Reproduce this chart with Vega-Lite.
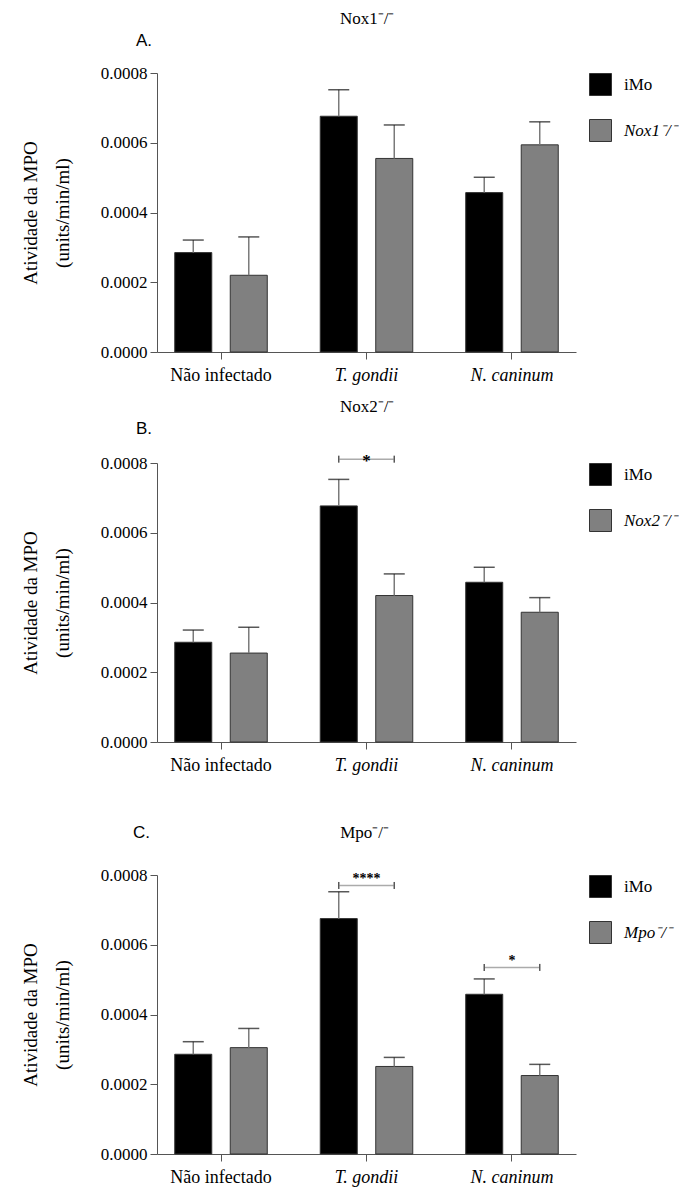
{
  "$schema": "https://vega.github.io/schema/vega-lite/v6.json",
  "padding": {"left": 21, "top": 10, "right": 2, "bottom": 2},
  "spacing": 50,
  "datasets": {
    "bars": [
      {"panel": "A", "infection": "Não infectado", "group": "iMo", "value": 0.000285, "err": 0.000321},
      {"panel": "A", "infection": "Não infectado", "group": "Nox1⁻/⁻", "value": 0.000220, "err": 0.000330},
      {"panel": "A", "infection": "T. gondii", "group": "iMo", "value": 0.000676, "err": 0.000752},
      {"panel": "A", "infection": "T. gondii", "group": "Nox1⁻/⁻", "value": 0.000555, "err": 0.000651},
      {"panel": "A", "infection": "N. caninum", "group": "iMo", "value": 0.000457, "err": 0.000501},
      {"panel": "A", "infection": "N. caninum", "group": "Nox1⁻/⁻", "value": 0.000594, "err": 0.000660},
      {"panel": "B", "infection": "Não infectado", "group": "iMo", "value": 0.000286, "err": 0.000321},
      {"panel": "B", "infection": "Não infectado", "group": "Nox2⁻/⁻", "value": 0.000255, "err": 0.000329},
      {"panel": "B", "infection": "T. gondii", "group": "iMo", "value": 0.000677, "err": 0.000753},
      {"panel": "B", "infection": "T. gondii", "group": "Nox2⁻/⁻", "value": 0.000420, "err": 0.000482},
      {"panel": "B", "infection": "N. caninum", "group": "iMo", "value": 0.000458, "err": 0.000501},
      {"panel": "B", "infection": "N. caninum", "group": "Nox2⁻/⁻", "value": 0.000372, "err": 0.000414},
      {"panel": "C", "infection": "Não infectado", "group": "iMo", "value": 0.000286, "err": 0.000322},
      {"panel": "C", "infection": "Não infectado", "group": "Mpo⁻/⁻", "value": 0.000305, "err": 0.000360},
      {"panel": "C", "infection": "T. gondii", "group": "iMo", "value": 0.000675, "err": 0.000752},
      {"panel": "C", "infection": "T. gondii", "group": "Mpo⁻/⁻", "value": 0.000251, "err": 0.000277},
      {"panel": "C", "infection": "N. caninum", "group": "iMo", "value": 0.000458, "err": 0.000502},
      {"panel": "C", "infection": "N. caninum", "group": "Mpo⁻/⁻", "value": 0.000225, "err": 0.000257}
    ],
    "sig": [
      {"panel": "B", "infection": "T. gondii", "y": 0.000811, "label": "*"},
      {"panel": "C", "infection": "T. gondii", "y": 0.000770, "label": "****"},
      {"panel": "C", "infection": "N. caninum", "y": 0.000535, "label": "*"}
    ],
    "sigcaps": [
      {"panel": "B", "infection": "T. gondii", "group": "iMo", "y": 0.000811},
      {"panel": "B", "infection": "T. gondii", "group": "Nox2⁻/⁻", "y": 0.000811},
      {"panel": "C", "infection": "T. gondii", "group": "iMo", "y": 0.000770},
      {"panel": "C", "infection": "T. gondii", "group": "Mpo⁻/⁻", "y": 0.000770},
      {"panel": "C", "infection": "N. caninum", "group": "iMo", "y": 0.000535},
      {"panel": "C", "infection": "N. caninum", "group": "Mpo⁻/⁻", "y": 0.000535}
    ]
  },
  "vconcat": [
    {
      "spacing": 14,
      "resolve": {
        "scale": {"color": "independent", "xOffset": "independent", "x": "independent", "y": "independent"},
        "legend": {"color": "independent"}
      },
      "vconcat": [
        {
          "title": {"text": "Nox1⁻/⁻", "anchor": "middle", "font": "Liberation Serif", "fontSize": 17, "fontWeight": "normal", "color": "#000", "dx": 18},
          "vconcat": [
            {
              "title": {"text": "A.", "anchor": "start", "frame": "group", "font": "Liberation Sans", "fontSize": 17, "fontWeight": "normal", "color": "#000", "dx": -21, "offset": 14},
              "width": 419,
              "height": 279,
              "layer": [
                {
                  "data": {"name": "bars"},
                  "transform": [{"filter": "datum.panel == 'A'"}],
                  "mark": {"type": "bar", "stroke": "#333", "strokeWidth": 1},
                  "encoding": {
                    "x": {"field": "infection", "type": "nominal", "sort": ["Não infectado", "T. gondii", "N. caninum"], "scale": {"paddingInner": 0.364, "paddingOuter": 0.122}, "axis": {"title": null}},
                    "xOffset": {"field": "group", "type": "nominal", "sort": ["iMo", "Nox1⁻/⁻"], "scale": {"paddingInner": 0.333, "paddingOuter": 0}},
                    "y": {"field": "value", "type": "quantitative", "scale": {"domain": [0, 0.0008]}, "axis": {"title": ["Atividade da MPO", "(units/min/ml)"], "values": [0, 0.0002, 0.0004, 0.0006, 0.0008], "format": ".4f", "labelFont": "Liberation Serif", "labelFontSize": 17}},
                    "color": {"field": "group", "type": "nominal", "scale": {"domain": ["iMo", "Nox1⁻/⁻"], "range": ["#000000", "#808080"]}}
                  }
                },
                {
                  "data": {"name": "bars"},
                  "transform": [{"filter": "datum.panel == 'A'"}],
                  "mark": {"type": "rule", "color": "#7a7a7a", "strokeWidth": 1.5},
                  "encoding": {
                    "x": {"field": "infection", "type": "nominal", "sort": ["Não infectado", "T. gondii", "N. caninum"]},
                    "xOffset": {"field": "group", "type": "nominal", "sort": ["iMo", "Nox1⁻/⁻"]},
                    "y": {"field": "value", "type": "quantitative"},
                    "y2": {"field": "err"}
                  }
                },
                {
                  "data": {"name": "bars"},
                  "transform": [{"filter": "datum.panel == 'A'"}],
                  "mark": {"type": "tick", "color": "#111", "thickness": 1.5, "size": 21, "orient": "horizontal"},
                  "encoding": {
                    "x": {"field": "infection", "type": "nominal", "sort": ["Não infectado", "T. gondii", "N. caninum"]},
                    "xOffset": {"field": "group", "type": "nominal", "sort": ["iMo", "Nox1⁻/⁻"]},
                    "y": {"field": "err", "type": "quantitative"}
                  }
                }
              ]
            }
          ]
        },
        {
          "title": {"text": "Nox2⁻/⁻", "anchor": "middle", "font": "Liberation Serif", "fontSize": 17, "fontWeight": "normal", "color": "#000", "dx": 18},
          "vconcat": [
            {
              "title": {"text": "B.", "anchor": "start", "frame": "group", "font": "Liberation Sans", "fontSize": 17, "fontWeight": "normal", "color": "#000", "dx": -21, "offset": 14},
              "width": 419,
              "height": 279,
              "layer": [
                {
                  "data": {"name": "bars"},
                  "transform": [{"filter": "datum.panel == 'B'"}],
                  "mark": {"type": "bar", "stroke": "#333", "strokeWidth": 1},
                  "encoding": {
                    "x": {"field": "infection", "type": "nominal", "sort": ["Não infectado", "T. gondii", "N. caninum"], "scale": {"paddingInner": 0.364, "paddingOuter": 0.122}, "axis": {"title": null}},
                    "xOffset": {"field": "group", "type": "nominal", "sort": ["iMo", "Nox2⁻/⁻"], "scale": {"paddingInner": 0.333, "paddingOuter": 0}},
                    "y": {"field": "value", "type": "quantitative", "scale": {"domain": [0, 0.0008]}, "axis": {"title": ["Atividade da MPO", "(units/min/ml)"], "values": [0, 0.0002, 0.0004, 0.0006, 0.0008], "format": ".4f", "labelFont": "Liberation Serif", "labelFontSize": 17}},
                    "color": {"field": "group", "type": "nominal", "scale": {"domain": ["iMo", "Nox2⁻/⁻"], "range": ["#000000", "#808080"]}}
                  }
                },
                {
                  "data": {"name": "bars"},
                  "transform": [{"filter": "datum.panel == 'B'"}],
                  "mark": {"type": "rule", "color": "#7a7a7a", "strokeWidth": 1.5},
                  "encoding": {
                    "x": {"field": "infection", "type": "nominal", "sort": ["Não infectado", "T. gondii", "N. caninum"]},
                    "xOffset": {"field": "group", "type": "nominal", "sort": ["iMo", "Nox2⁻/⁻"]},
                    "y": {"field": "value", "type": "quantitative"},
                    "y2": {"field": "err"}
                  }
                },
                {
                  "data": {"name": "bars"},
                  "transform": [{"filter": "datum.panel == 'B'"}],
                  "mark": {"type": "tick", "color": "#111", "thickness": 1.5, "size": 21, "orient": "horizontal"},
                  "encoding": {
                    "x": {"field": "infection", "type": "nominal", "sort": ["Não infectado", "T. gondii", "N. caninum"]},
                    "xOffset": {"field": "group", "type": "nominal", "sort": ["iMo", "Nox2⁻/⁻"]},
                    "y": {"field": "err", "type": "quantitative"}
                  }
                },
                {
                  "data": {"name": "sig"},
                  "transform": [{"filter": "datum.panel == 'B'"}],
                  "mark": {"type": "tick", "color": "#888", "thickness": 1.5, "size": 54, "orient": "horizontal"},
                  "encoding": {
                    "x": {"field": "infection", "type": "nominal", "sort": ["Não infectado", "T. gondii", "N. caninum"]},
                    "y": {"field": "y", "type": "quantitative"}
                  }
                },
                {
                  "data": {"name": "sigcaps"},
                  "transform": [{"filter": "datum.panel == 'B'"}],
                  "mark": {"type": "tick", "color": "#111", "thickness": 1.5, "size": 7, "orient": "vertical"},
                  "encoding": {
                    "x": {"field": "infection", "type": "nominal", "sort": ["Não infectado", "T. gondii", "N. caninum"]},
                    "xOffset": {"field": "group", "type": "nominal", "sort": ["iMo", "Nox2⁻/⁻"]},
                    "y": {"field": "y", "type": "quantitative"}
                  }
                },
                {
                  "data": {"name": "sig"},
                  "transform": [{"filter": "datum.panel == 'B'"}],
                  "mark": {"type": "text", "font": "Liberation Serif", "fontSize": 17, "fontWeight": "bold", "color": "#000", "baseline": "middle", "dy": 2},
                  "encoding": {
                    "x": {"field": "infection", "type": "nominal", "sort": ["Não infectado", "T. gondii", "N. caninum"]},
                    "y": {"field": "y", "type": "quantitative"},
                    "text": {"field": "label"}
                  }
                }
              ]
            }
          ]
        }
      ]
    },
    {
      "title": {"text": "Mpo⁻/⁻", "anchor": "middle", "font": "Liberation Serif", "fontSize": 17, "fontWeight": "normal", "color": "#000", "dx": 18, "dy": 22},
      "vconcat": [
        {
          "title": {"text": "C.", "anchor": "start", "frame": "group", "font": "Liberation Sans", "fontSize": 17, "fontWeight": "normal", "color": "#000", "dx": -24, "offset": 24},
          "width": 419,
          "height": 279,
          "layer": [
            {
              "data": {"name": "bars"},
              "transform": [{"filter": "datum.panel == 'C'"}],
              "mark": {"type": "bar", "stroke": "#333", "strokeWidth": 1},
              "encoding": {
                "x": {"field": "infection", "type": "nominal", "sort": ["Não infectado", "T. gondii", "N. caninum"], "scale": {"paddingInner": 0.364, "paddingOuter": 0.122}, "axis": {"title": null}},
                "xOffset": {"field": "group", "type": "nominal", "sort": ["iMo", "Mpo⁻/⁻"], "scale": {"paddingInner": 0.333, "paddingOuter": 0}},
                "y": {"field": "value", "type": "quantitative", "scale": {"domain": [0, 0.0008]}, "axis": {"title": ["Atividade da MPO", "(units/min/ml)"], "values": [0, 0.0002, 0.0004, 0.0006, 0.0008], "format": ".4f", "labelFont": "Liberation Serif", "labelFontSize": 17}},
                "color": {"field": "group", "type": "nominal", "scale": {"domain": ["iMo", "Mpo⁻/⁻"], "range": ["#000000", "#808080"]}}
              }
            },
            {
              "data": {"name": "bars"},
              "transform": [{"filter": "datum.panel == 'C'"}],
              "mark": {"type": "rule", "color": "#7a7a7a", "strokeWidth": 1.5},
              "encoding": {
                "x": {"field": "infection", "type": "nominal", "sort": ["Não infectado", "T. gondii", "N. caninum"]},
                "xOffset": {"field": "group", "type": "nominal", "sort": ["iMo", "Mpo⁻/⁻"]},
                "y": {"field": "value", "type": "quantitative"},
                "y2": {"field": "err"}
              }
            },
            {
              "data": {"name": "bars"},
              "transform": [{"filter": "datum.panel == 'C'"}],
              "mark": {"type": "tick", "color": "#111", "thickness": 1.5, "size": 21, "orient": "horizontal"},
              "encoding": {
                "x": {"field": "infection", "type": "nominal", "sort": ["Não infectado", "T. gondii", "N. caninum"]},
                "xOffset": {"field": "group", "type": "nominal", "sort": ["iMo", "Mpo⁻/⁻"]},
                "y": {"field": "err", "type": "quantitative"}
              }
            },
            {
              "data": {"name": "sig"},
              "transform": [{"filter": "datum.panel == 'C'"}],
              "mark": {"type": "tick", "color": "#888", "thickness": 1.5, "size": 54, "orient": "horizontal"},
              "encoding": {
                "x": {"field": "infection", "type": "nominal", "sort": ["Não infectado", "T. gondii", "N. caninum"]},
                "y": {"field": "y", "type": "quantitative"}
              }
            },
            {
              "data": {"name": "sigcaps"},
              "transform": [{"filter": "datum.panel == 'C'"}],
              "mark": {"type": "tick", "color": "#111", "thickness": 1.5, "size": 7, "orient": "vertical"},
              "encoding": {
                "x": {"field": "infection", "type": "nominal", "sort": ["Não infectado", "T. gondii", "N. caninum"]},
                "xOffset": {"field": "group", "type": "nominal", "sort": ["iMo", "Mpo⁻/⁻"]},
                "y": {"field": "y", "type": "quantitative"}
              }
            },
            {
              "data": {"name": "sig"},
              "transform": [{"filter": "datum.panel == 'C'"}],
              "mark": {"type": "text", "font": "Liberation Serif", "fontSize": 14, "fontWeight": "bold", "color": "#000", "baseline": "bottom", "dy": 1},
              "encoding": {
                "x": {"field": "infection", "type": "nominal", "sort": ["Não infectado", "T. gondii", "N. caninum"]},
                "y": {"field": "y", "type": "quantitative"},
                "text": {"field": "label"}
              }
            }
          ]
        }
      ]
    }
  ],
  "resolve": {
    "scale": {"color": "independent", "xOffset": "independent", "x": "independent", "y": "independent"},
    "legend": {"color": "independent"}
  },
  "config": {
    "view": {"stroke": null},
    "axisX": {
      "labelAngle": 0,
      "labelFont": "Liberation Serif",
      "labelFontSize": 18,
      "labelColor": "#000",
      "labelFontStyle": {"expr": "datum.value == 'Não infectado' ? 'normal' : 'italic'"},
      "labelPadding": 7,
      "tickSize": 7,
      "tickColor": "#555",
      "domainColor": "#555",
      "grid": false
    },
    "axisY": {
      "titleFont": "Liberation Serif",
      "titleFontSize": 19,
      "titleFontWeight": "normal",
      "titleColor": "#000",
      "titleLineHeight": 32,
      "titlePadding": 28,
      "labelFont": "Liberation Serif",
      "labelFontSize": 17,
      "labelColor": "#000",
      "labelPadding": 3,
      "tickSize": 7,
      "tickColor": "#555",
      "domainColor": "#555",
      "grid": false
    },
    "legend": {
      "title": null,
      "orient": "right",
      "offset": 13,
      "symbolType": "square",
      "symbolSize": 484,
      "symbolStrokeColor": "#333",
      "symbolStrokeWidth": 1,
      "symbolOpacity": 1,
      "labelFont": "Liberation Serif",
      "labelFontSize": 17,
      "labelColor": "#000",
      "labelFontStyle": {"expr": "datum.label == 'iMo' ? 'normal' : 'italic'"},
      "labelOffset": 12,
      "rowPadding": 19
    }
  }
}
